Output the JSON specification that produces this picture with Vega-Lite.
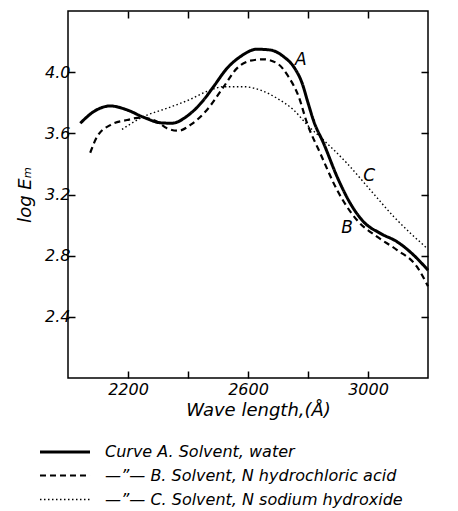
{
  "$schema": "https://vega.github.io/schema/vega-lite/v6.json",
  "autosize": {"type": "none"},
  "width": 360,
  "height": 367,
  "padding": {"left": 68, "top": 11, "right": 30, "bottom": 133},
  "background": "white",
  "config": {
    "view": {"stroke": "black", "strokeWidth": 1.5},
    "font": "DejaVu Sans",
    "axis": {
      "grid": false,
      "domain": false,
      "ticks": true,
      "zindex": 1,
      "tickColor": "black",
      "tickSize": 7,
      "tickWidth": 1.5,
      "labelFont": "DejaVu Sans",
      "labelFontStyle": "italic",
      "labelFontSize": 16,
      "labelColor": "black",
      "titleFont": "DejaVu Sans",
      "titleFontStyle": "italic",
      "titleFontWeight": "normal",
      "titleFontSize": 18,
      "titleColor": "black"
    }
  },
  "datasets": {
    "curves": [
      {"curve": "Curve A. Solvent, water", "x": 2041, "y": 3.666},
      {"curve": "Curve A. Solvent, water", "x": 2085, "y": 3.741},
      {"curve": "Curve A. Solvent, water", "x": 2141, "y": 3.779},
      {"curve": "Curve A. Solvent, water", "x": 2197, "y": 3.753},
      {"curve": "Curve A. Solvent, water", "x": 2252, "y": 3.705},
      {"curve": "Curve A. Solvent, water", "x": 2308, "y": 3.669},
      {"curve": "Curve A. Solvent, water", "x": 2345, "y": 3.666},
      {"curve": "Curve A. Solvent, water", "x": 2405, "y": 3.725},
      {"curve": "Curve A. Solvent, water", "x": 2452, "y": 3.818},
      {"curve": "Curve A. Solvent, water", "x": 2485, "y": 3.905},
      {"curve": "Curve A. Solvent, water", "x": 2530, "y": 4.025},
      {"curve": "Curve A. Solvent, water", "x": 2574, "y": 4.101},
      {"curve": "Curve A. Solvent, water", "x": 2630, "y": 4.15},
      {"curve": "Curve A. Solvent, water", "x": 2674, "y": 4.145},
      {"curve": "Curve A. Solvent, water", "x": 2719, "y": 4.101},
      {"curve": "Curve A. Solvent, water", "x": 2752, "y": 4.036},
      {"curve": "Curve A. Solvent, water", "x": 2780, "y": 3.93},
      {"curve": "Curve A. Solvent, water", "x": 2800, "y": 3.8},
      {"curve": "Curve A. Solvent, water", "x": 2819, "y": 3.68},
      {"curve": "Curve A. Solvent, water", "x": 2852, "y": 3.535},
      {"curve": "Curve A. Solvent, water", "x": 2897, "y": 3.316},
      {"curve": "Curve A. Solvent, water", "x": 2941, "y": 3.142},
      {"curve": "Curve A. Solvent, water", "x": 2985, "y": 3.022},
      {"curve": "Curve A. Solvent, water", "x": 3041, "y": 2.946},
      {"curve": "Curve A. Solvent, water", "x": 3097, "y": 2.891},
      {"curve": "Curve A. Solvent, water", "x": 3152, "y": 2.804},
      {"curve": "Curve A. Solvent, water", "x": 3200, "y": 2.705},
      {"curve": "—”— B. Solvent, N hydrochloric acid", "x": 2074, "y": 3.473},
      {"curve": "—”— B. Solvent, N hydrochloric acid", "x": 2097, "y": 3.578},
      {"curve": "—”— B. Solvent, N hydrochloric acid", "x": 2141, "y": 3.654},
      {"curve": "—”— B. Solvent, N hydrochloric acid", "x": 2197, "y": 3.687},
      {"curve": "—”— B. Solvent, N hydrochloric acid", "x": 2241, "y": 3.703},
      {"curve": "—”— B. Solvent, N hydrochloric acid", "x": 2297, "y": 3.676},
      {"curve": "—”— B. Solvent, N hydrochloric acid", "x": 2330, "y": 3.633},
      {"curve": "—”— B. Solvent, N hydrochloric acid", "x": 2369, "y": 3.617},
      {"curve": "—”— B. Solvent, N hydrochloric acid", "x": 2408, "y": 3.655},
      {"curve": "—”— B. Solvent, N hydrochloric acid", "x": 2463, "y": 3.753},
      {"curve": "—”— B. Solvent, N hydrochloric acid", "x": 2519, "y": 3.905},
      {"curve": "—”— B. Solvent, N hydrochloric acid", "x": 2563, "y": 4.025},
      {"curve": "—”— B. Solvent, N hydrochloric acid", "x": 2608, "y": 4.075},
      {"curve": "—”— B. Solvent, N hydrochloric acid", "x": 2652, "y": 4.084},
      {"curve": "—”— B. Solvent, N hydrochloric acid", "x": 2697, "y": 4.058},
      {"curve": "—”— B. Solvent, N hydrochloric acid", "x": 2735, "y": 3.97},
      {"curve": "—”— B. Solvent, N hydrochloric acid", "x": 2769, "y": 3.84},
      {"curve": "—”— B. Solvent, N hydrochloric acid", "x": 2797, "y": 3.666},
      {"curve": "—”— B. Solvent, N hydrochloric acid", "x": 2841, "y": 3.469},
      {"curve": "—”— B. Solvent, N hydrochloric acid", "x": 2897, "y": 3.229},
      {"curve": "—”— B. Solvent, N hydrochloric acid", "x": 2963, "y": 3.033},
      {"curve": "—”— B. Solvent, N hydrochloric acid", "x": 3030, "y": 2.924},
      {"curve": "—”— B. Solvent, N hydrochloric acid", "x": 3097, "y": 2.837},
      {"curve": "—”— B. Solvent, N hydrochloric acid", "x": 3163, "y": 2.728},
      {"curve": "—”— B. Solvent, N hydrochloric acid", "x": 3200, "y": 2.6},
      {"curve": "—”— C. Solvent, N sodium hydroxide", "x": 2180, "y": 3.626},
      {"curve": "—”— C. Solvent, N sodium hydroxide", "x": 2252, "y": 3.709},
      {"curve": "—”— C. Solvent, N sodium hydroxide", "x": 2330, "y": 3.764},
      {"curve": "—”— C. Solvent, N sodium hydroxide", "x": 2405, "y": 3.82},
      {"curve": "—”— C. Solvent, N sodium hydroxide", "x": 2463, "y": 3.874},
      {"curve": "—”— C. Solvent, N sodium hydroxide", "x": 2519, "y": 3.905},
      {"curve": "—”— C. Solvent, N sodium hydroxide", "x": 2585, "y": 3.905},
      {"curve": "—”— C. Solvent, N sodium hydroxide", "x": 2641, "y": 3.883},
      {"curve": "—”— C. Solvent, N sodium hydroxide", "x": 2697, "y": 3.829},
      {"curve": "—”— C. Solvent, N sodium hydroxide", "x": 2752, "y": 3.753},
      {"curve": "—”— C. Solvent, N sodium hydroxide", "x": 2800, "y": 3.65},
      {"curve": "—”— C. Solvent, N sodium hydroxide", "x": 2852, "y": 3.556},
      {"curve": "—”— C. Solvent, N sodium hydroxide", "x": 2930, "y": 3.404},
      {"curve": "—”— C. Solvent, N sodium hydroxide", "x": 3008, "y": 3.229},
      {"curve": "—”— C. Solvent, N sodium hydroxide", "x": 3086, "y": 3.055},
      {"curve": "—”— C. Solvent, N sodium hydroxide", "x": 3197, "y": 2.848}
    ],
    "labels": [
      {"label": "A", "x": 2776, "y": 4.08},
      {"label": "B", "x": 2930, "y": 2.98},
      {"label": "C", "x": 3004, "y": 3.32}
    ]
  },
  "layer": [
    {
      "data": {"name": "curves"},
      "mark": {"type": "line", "interpolate": "monotone", "color": "black"},
      "encoding": {
        "x": {
          "field": "x", "type": "quantitative",
          "scale": {"domain": [2000, 3200], "nice": false, "zero": false},
          "axis": {
            "orient": "bottom",
            "offset": -7,
            "values": [2200, 2400, 2600, 2800, 3000],
            "format": "d",
            "labelExpr": "datum.value % 400 == 200 ? datum.label : ''",
            "labelPadding": 3,
            "title": "Wave length,(Å)",
            "titlePadding": 4,
            "titleX": 190
          }
        },
        "y": {
          "field": "y", "type": "quantitative",
          "scale": {"domain": [2.0, 4.4], "nice": false, "zero": false},
          "axis": {
            "orient": "left",
            "offset": -7,
            "values": [2.4, 2.8, 3.2, 3.6, 4.0],
            "format": ".1f",
            "labelPadding": -2,
            "title": "log Eₘ",
            "titlePadding": 10
          }
        },
        "detail": {"field": "curve"},
        "strokeDash": {
          "field": "curve", "type": "nominal",
          "scale": {
            "domain": ["Curve A. Solvent, water", "—”— B. Solvent, N hydrochloric acid", "—”— C. Solvent, N sodium hydroxide"],
            "range": [[1, 0], [6, 4], [1.5, 2.5]]
          },
          "legend": {
            "title": null,
            "orient": "none",
            "legendX": -13,
            "legendY": 431,
            "symbolType": "M-3,0H3",
            "symbolSize": 278,
            "symbolStrokeColor": "black",
            "labelFont": "DejaVu Sans",
            "labelFontStyle": "italic",
            "labelFontSize": 16,
            "labelColor": "black",
            "labelOffset": 30,
            "rowPadding": 6,
            "labelLimit": 400
          }
        },
        "strokeWidth": {
          "field": "curve", "type": "nominal",
          "scale": {
            "domain": ["Curve A. Solvent, water", "—”— B. Solvent, N hydrochloric acid", "—”— C. Solvent, N sodium hydroxide"],
            "range": [3, 1.4, 1.8]
          },
          "legend": {
            "title": null,
            "orient": "none",
            "legendX": -13,
            "legendY": 431,
            "symbolType": "M-3,0H3",
            "symbolSize": 278,
            "symbolStrokeColor": "black",
            "labelFont": "DejaVu Sans",
            "labelFontStyle": "italic",
            "labelFontSize": 16,
            "labelColor": "black",
            "labelOffset": 30,
            "rowPadding": 6,
            "labelLimit": 400
          }
        }
      }
    },
    {
      "data": {"name": "labels"},
      "mark": {"type": "text", "font": "DejaVu Sans", "fontStyle": "italic", "fontSize": 17, "color": "black"},
      "encoding": {
        "x": {
          "field": "x", "type": "quantitative",
          "axis": {"orient": "top", "offset": -7, "values": [2200, 2400, 2600, 2800, 3000], "labels": false, "title": null}
        },
        "y": {
          "field": "y", "type": "quantitative",
          "axis": {"orient": "right", "offset": -7, "values": [2.4, 2.8, 3.2, 3.6, 4.0], "labels": false, "title": null}
        },
        "text": {"field": "label"}
      }
    }
  ],
  "resolve": {"axis": {"x": "independent", "y": "independent"}}
}
